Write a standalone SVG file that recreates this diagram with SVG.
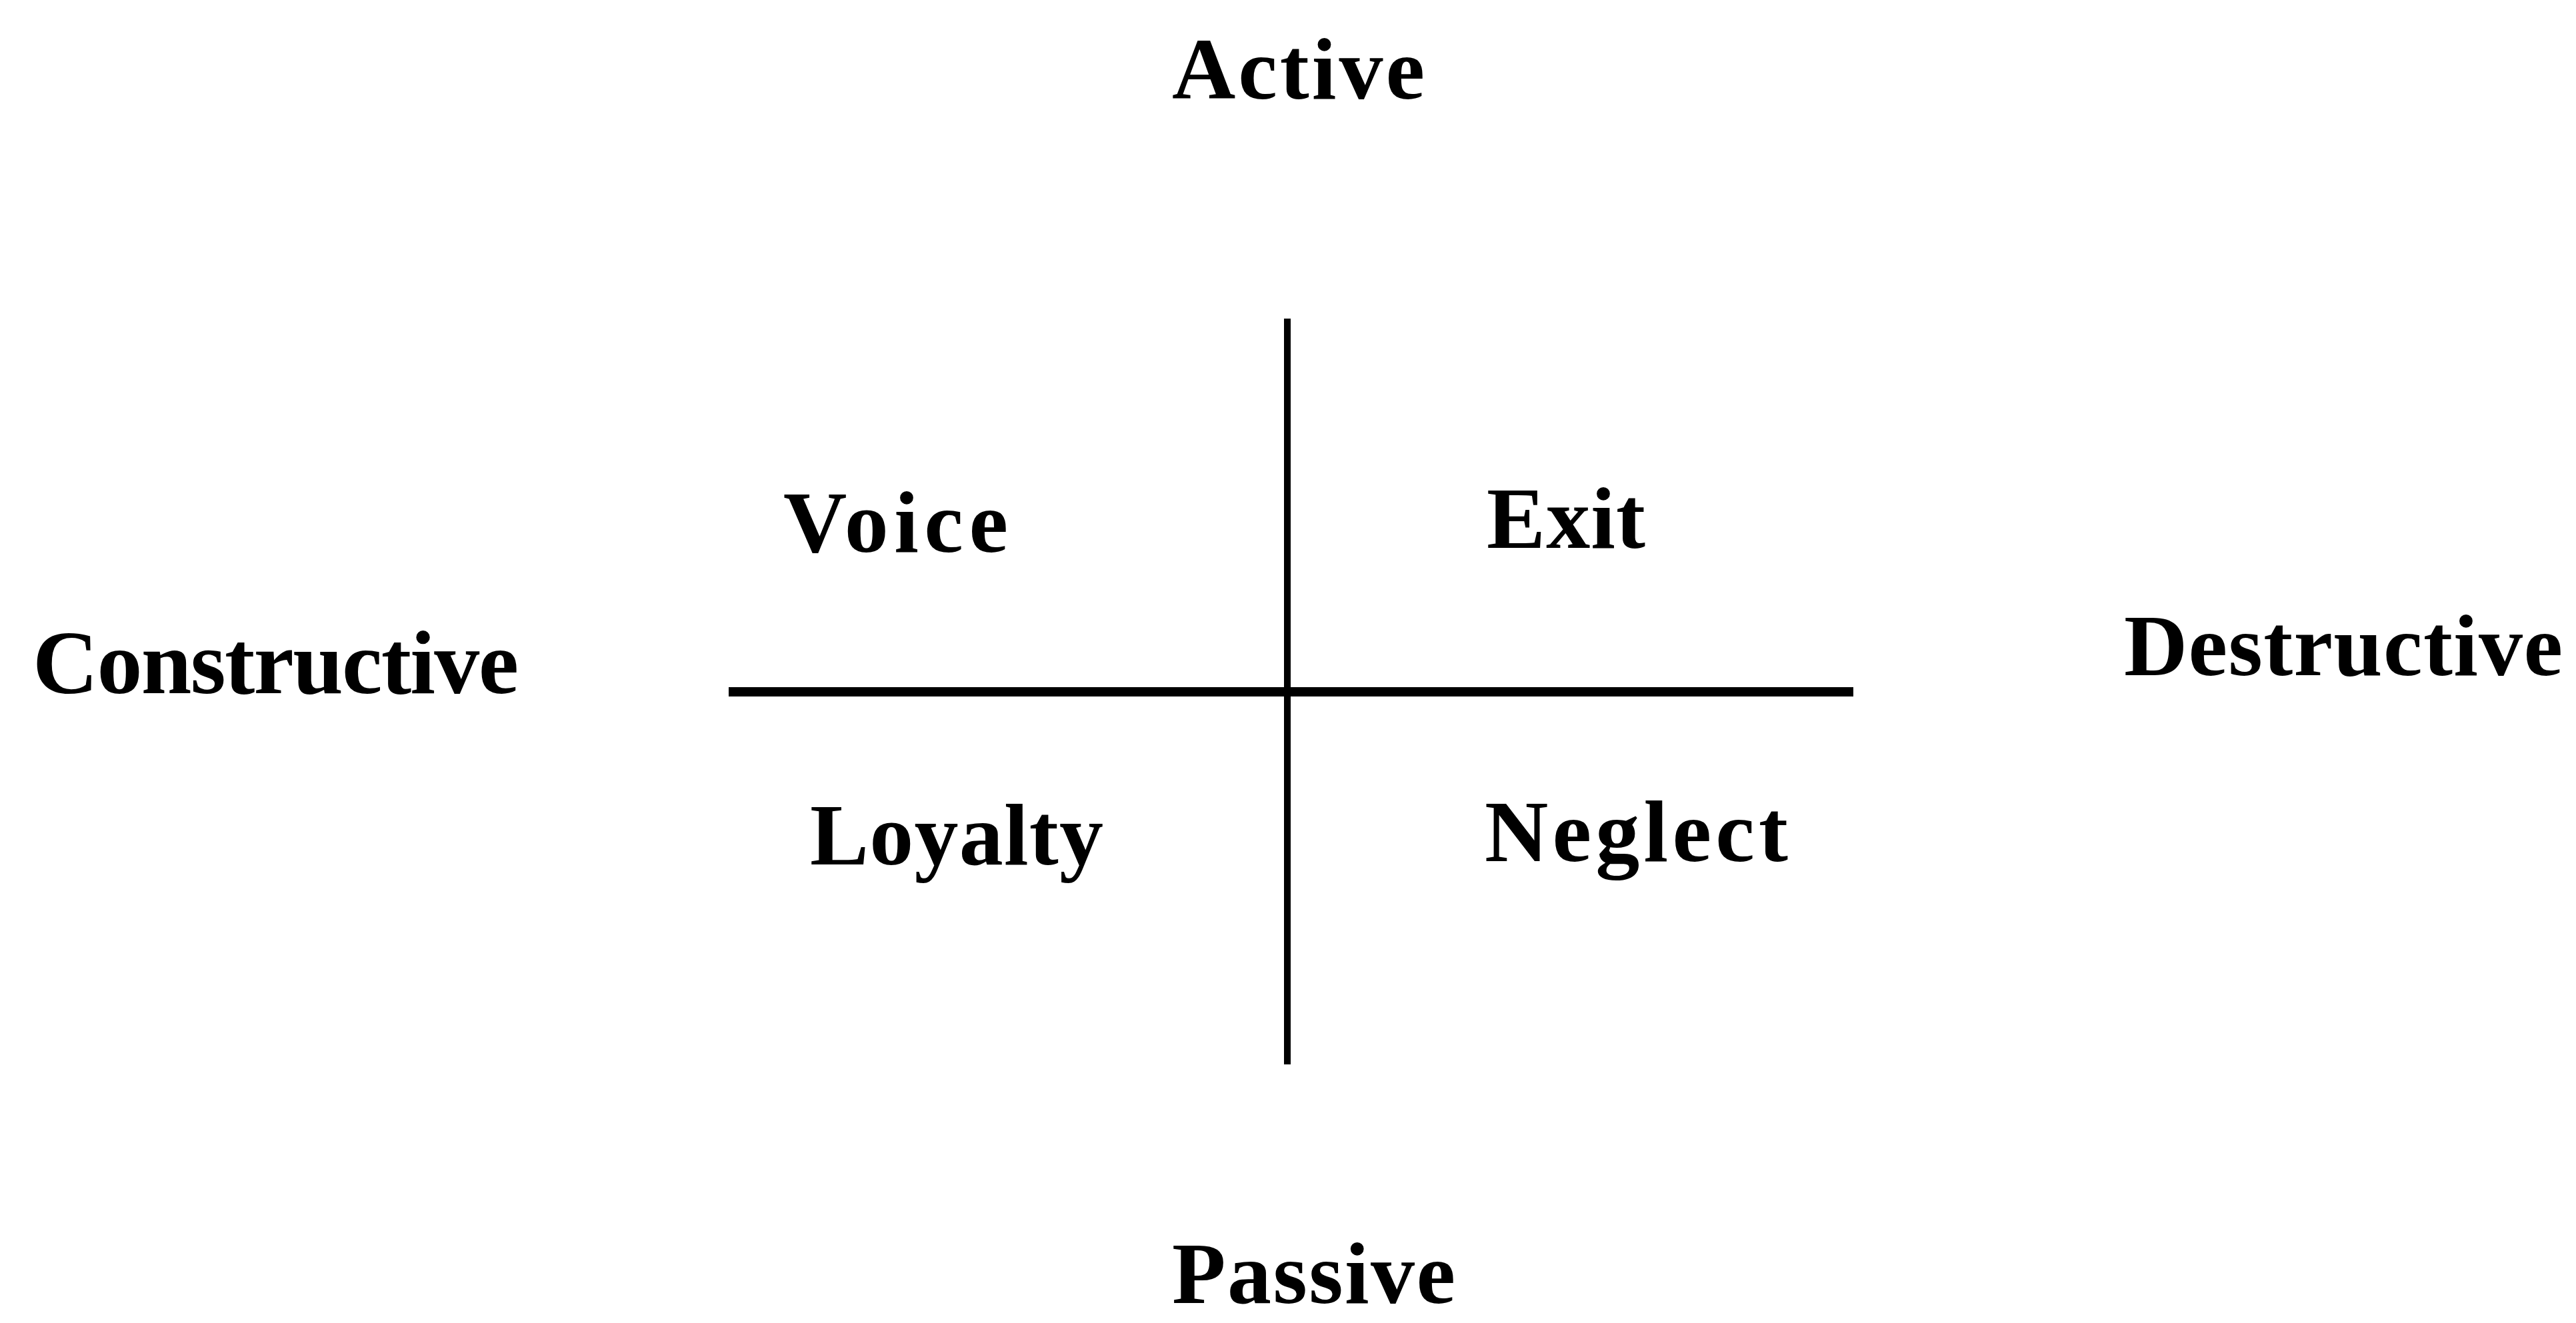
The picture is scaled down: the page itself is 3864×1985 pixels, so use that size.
<svg xmlns="http://www.w3.org/2000/svg" width="3864" height="1985" viewBox="0 0 3864 1985">
<style>
.t{font-family:"Liberation Serif","Times New Roman",serif;font-weight:bold;font-size:132px;fill:#000}
.ln{stroke:#000;fill:none}
</style>
<rect width="3864" height="1985" fill="#fff"/>
<g id="connectors">
<line class="ln" x1="1931" y1="478" x2="1931" y2="1597" stroke-width="10"/>
<line class="ln" x1="1093" y1="1038" x2="2780" y2="1038" stroke-width="14"/>
</g>
<g id="active"><text class="t" x="1758" y="148" textLength="379" lengthAdjust="spacing">Active</text></g>
<g id="passive"><text class="t" x="1758" y="1955" textLength="425" lengthAdjust="spacing">Passive</text></g>
<g id="constructive"><text class="t" x="49" y="1040" style="font-size:136px" textLength="729" lengthAdjust="spacing">Constructive</text></g>
<g id="destructive"><text class="t" x="3186" y="1013" textLength="658" lengthAdjust="spacing">Destructive</text></g>
<g id="voice"><text class="t" x="1175" y="828" textLength="337" lengthAdjust="spacing">Voice</text></g>
<g id="exit"><text class="t" x="2230" y="822" textLength="238" lengthAdjust="spacing">Exit</text></g>
<g id="loyalty"><text class="t" x="1215" y="1297" textLength="440" lengthAdjust="spacing">Loyalty</text></g>
<g id="neglect"><text class="t" x="2227" y="1292" textLength="455" lengthAdjust="spacing">Neglect</text></g>
</svg>
